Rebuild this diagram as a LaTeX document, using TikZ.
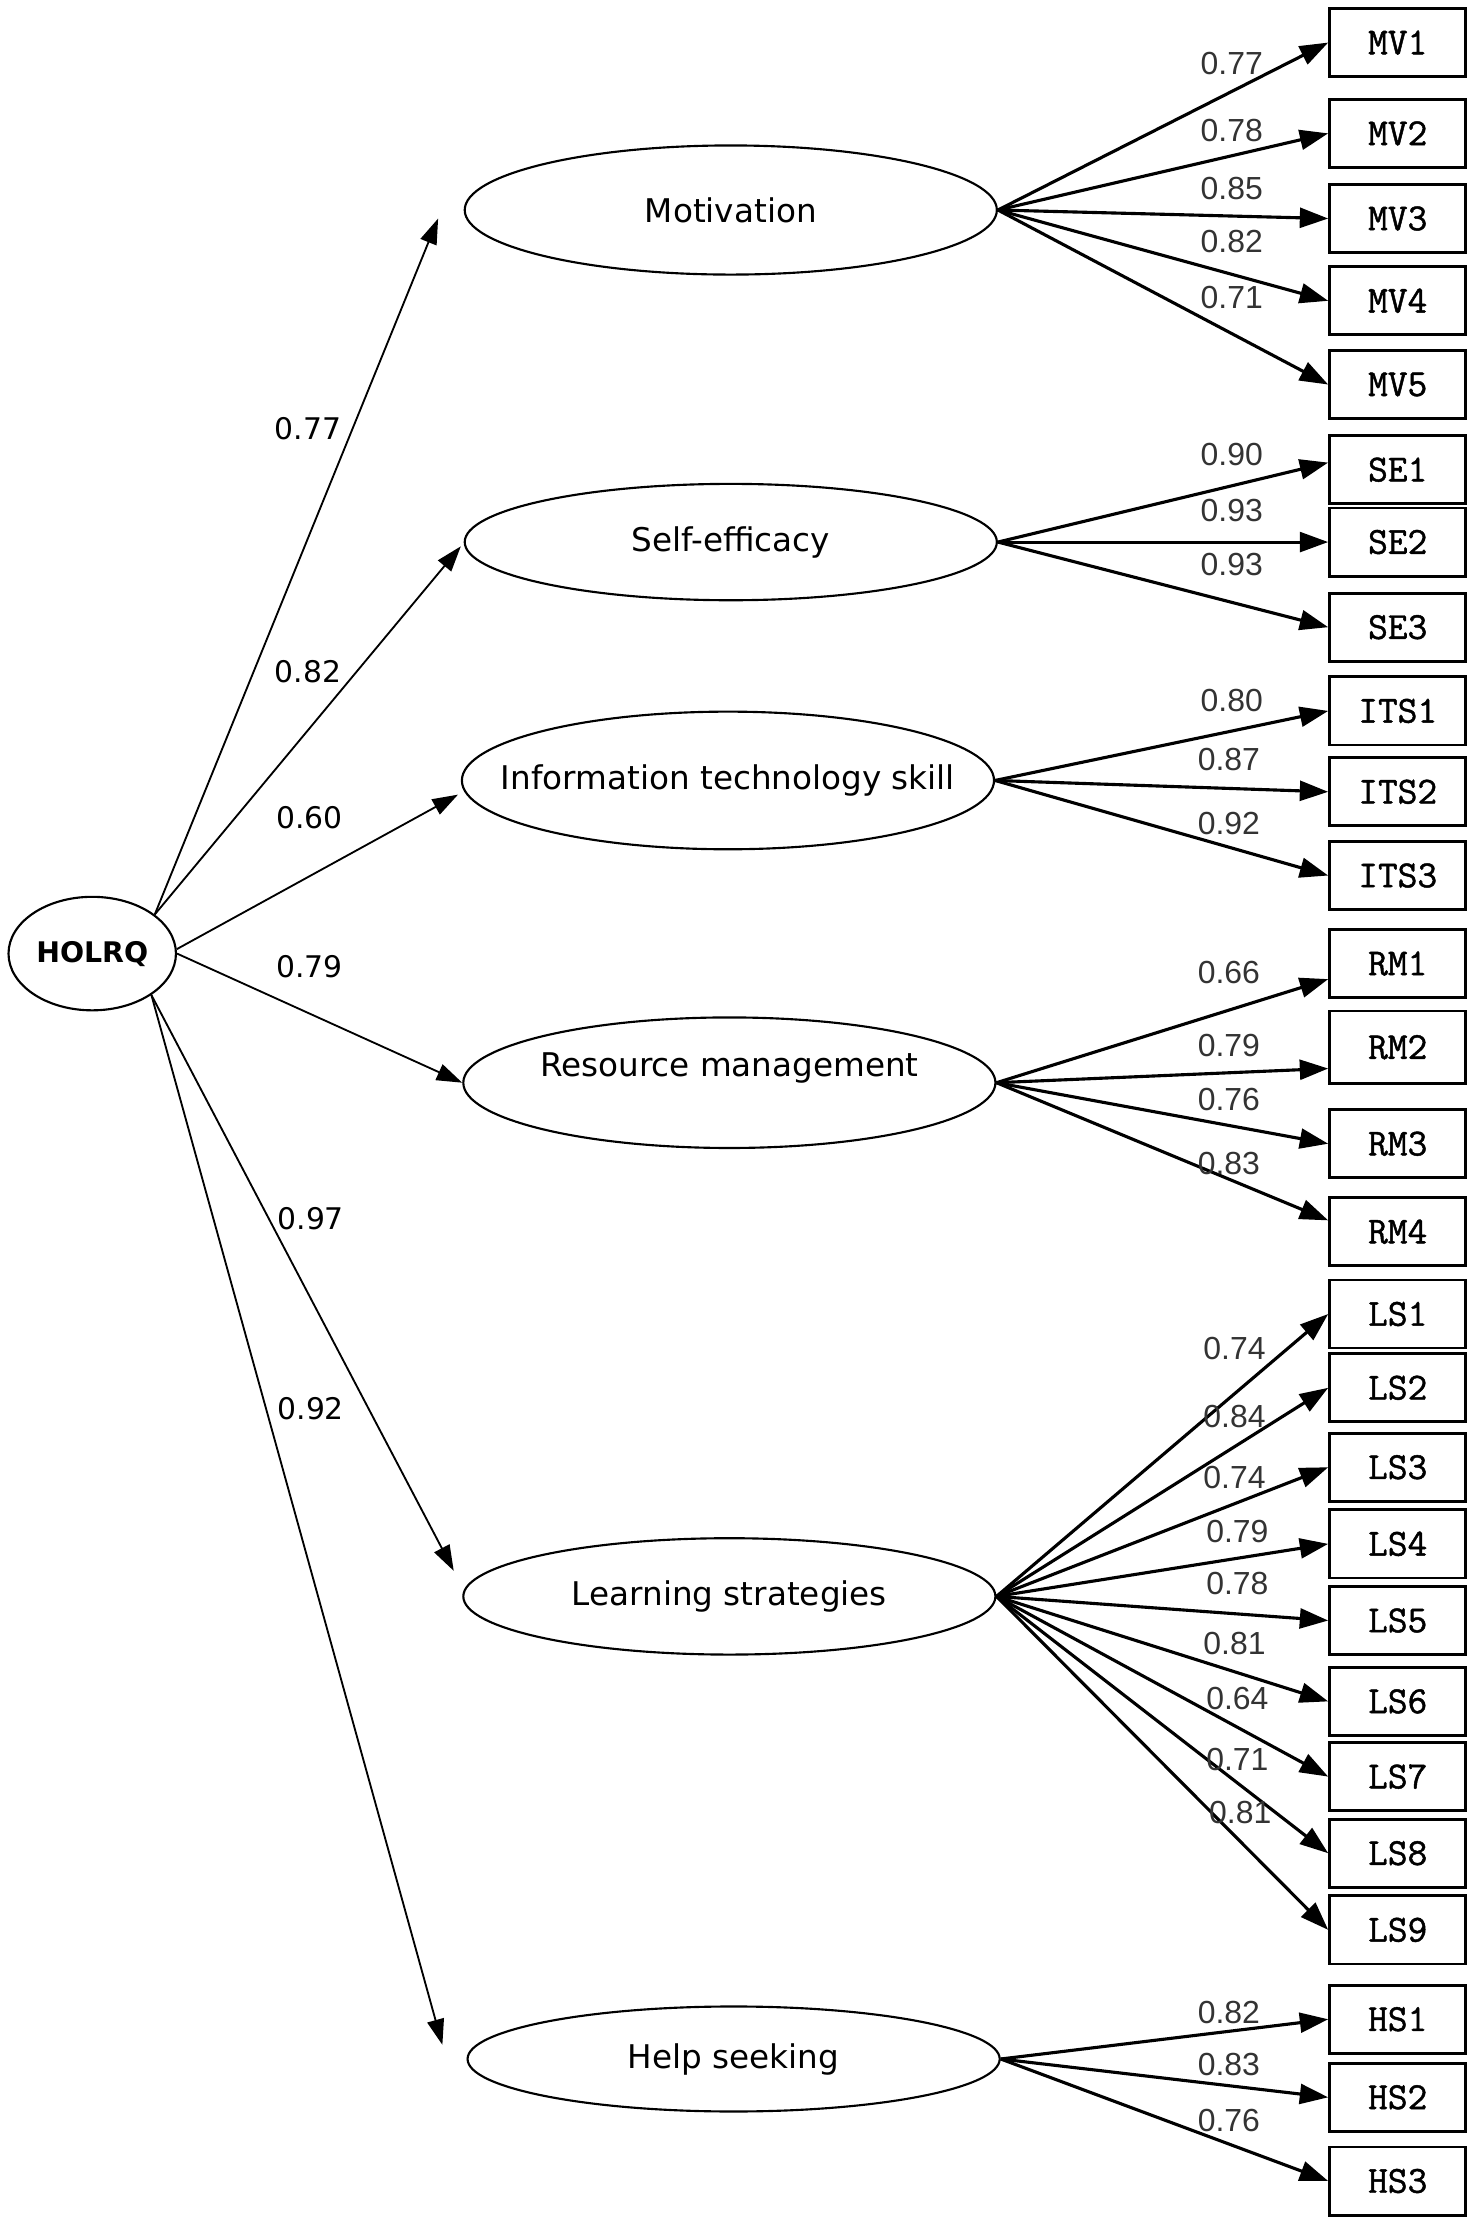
\documentclass[tikz,border=0pt]{standalone}
\usepackage{fontspec}
\setmainfont{DejaVu Sans}
\newfontfamily\lblfont{Liberation Sans}
\newfontfamily\obsfont{Latin Modern Mono}[FakeBold=1.2]
\usetikzlibrary{arrows.meta,shapes.geometric}

\tikzset{
  latent/.style={draw, ellipse, line width=1.5pt, minimum width=375pt, inner xsep=-100pt, inner ysep=0pt,
    font=\fontsize{23}{23}\selectfont},
  observed/.style={draw, line width=2pt, minimum width=96pt, minimum height=48pt, inner sep=0pt,
    font=\obsfont\fontsize{27}{27}\selectfont},
  struct/.style={line width=1.3pt, -{Triangle[length=18pt,width=12pt]}},
  loading/.style={line width=2.2pt, -{Triangle[length=20pt,width=14pt]}},
  coef/.style={inner sep=0pt, font=\fontsize{21}{21}\selectfont},
  lcoef/.style={inner sep=0pt, text=black!80, font=\lblfont\fontsize{22.5}{22.5}\selectfont},
}

\begin{document}
\begin{tikzpicture}[x=1pt,y=-1pt]
        \useasboundingbox (0,0) rectangle (1040,1568);
        % second order factor
        \node[draw, ellipse, line width=1.5pt, minimum width=118pt, minimum height=80pt, inner sep=0pt,
          font=\bfseries\fontsize{20}{20}\selectfont] (holrq) at (65,672) {HOLRQ};
        %
        \node[latent, minimum height=91pt] (mot) at (515,148) {Motivation};
        \node[latent, minimum height=82pt] (self) at (515,382) {Self-efficacy};
        \node[latent, minimum height=97pt] (its) at (513,550) {Information technology skill};
        \node[latent, minimum height=92pt] (rm) at (514,763) {\raisebox{4.5pt}[0pt][0pt]{Resource management}};
        \node[latent, minimum height=82pt] (ls) at (514,1125) {Learning strategies};
        \node[latent, minimum height=74pt] (hs) at (517,1451) {Help seeking};
        %
        \node[observed] (mv1) at (985,30) {MV1};
        \node[observed] (mv2) at (985,94) {MV2};
        \node[observed] (mv3) at (985,154) {MV3};
        \node[observed] (mv4) at (985,212) {MV4};
        \node[observed] (mv5) at (985,271) {MV5};
        \node[observed] (se1) at (985,331) {SE1};
        \node[observed] (se2) at (985,382) {SE2};
        \node[observed] (se3) at (985,442) {SE3};
        \node[observed] (its1) at (985,501) {ITS1};
        \node[observed] (its2) at (985,558) {ITS2};
        \node[observed] (its3) at (985,617) {ITS3};
        \node[observed] (rm1) at (985,679) {RM1};
        \node[observed, minimum height=51pt] (rm2) at (985,738) {RM2};
        \node[observed] (rm3) at (985,806) {RM3};
        \node[observed] (rm4) at (985,868) {RM4};
        \node[observed] (ls1) at (985,926) {LS1};
        \node[observed] (ls2) at (985,978) {LS2};
        \node[observed] (ls3) at (985,1034) {LS3};
        \node[observed] (ls4) at (985,1088) {LS4};
        \node[observed] (ls5) at (985,1142) {LS5};
        \node[observed] (ls6) at (985,1199) {LS6};
        \node[observed] (ls7) at (985,1252) {LS7};
        \node[observed] (ls8) at (985,1306) {LS8};
        \node[observed] (ls9) at (985,1360) {LS9};
        \node[observed] (hs1) at (985,1423) {HS1};
        \node[observed] (hs2) at (985,1478) {HS2};
        \node[observed] (hs3) at (985,1537) {HS3};
        %
        \draw[struct] (holrq.32) -- ([shift={(-18,6)}]mot.west);
        \draw[struct] (holrq.32) -- ([shift={(-2,3)}]self.west);
        \draw[struct] (holrq.3) -- ([shift={(-2,10)}]its.west);
        \draw[struct] (holrq.east) -- (rm.west);
        \draw[struct] (holrq.-35) -- ([shift={(-6,-18)}]ls.west);
        \draw[struct] (holrq.-35) -- ([shift={(-17,-10)}]hs.west);
        \node[coef] (c1) at (217,302) {0.77};
        \node[coef] (c2) at (217,473) {0.82};
        \node[coef] (c3) at (218,576) {0.60};
        \node[coef] (c4) at (218,681) {0.79};
        \node[coef] (c5) at (219,859) {0.97};
        \node[coef] (c6) at (219,993) {0.92};
        %
        \draw[loading] (mot.east) -- (mv1.west);
        \draw[loading] (mot.east) -- (mv2.west);
        \draw[loading] (mot.east) -- (mv3.west);
        \draw[loading] (mot.east) -- (mv4.west);
        \draw[loading] (mot.east) -- (mv5.west);
        \node[lcoef] (l-mv1) at (868,45) {0.77};
        \node[lcoef] (l-mv2) at (868,92) {0.78};
        \node[lcoef] (l-mv3) at (868,133) {0.85};
        \node[lcoef] (l-mv4) at (868,170) {0.82};
        \node[lcoef] (l-mv5) at (868,210) {0.71};
        %
        \draw[loading] (self.east) -- ([yshift=5pt]se1.west);
        \draw[loading] (self.east) -- (se2.west);
        \draw[loading] (self.east) -- (se3.west);
        \node[lcoef] (l-se1) at (868,320) {0.90};
        \node[lcoef] (l-se2) at (868,360) {0.93};
        \node[lcoef] (l-se3) at (868,398) {0.93};
        %
        \draw[loading] (its.east) -- (its1.west);
        \draw[loading] (its.east) -- (its2.west);
        \draw[loading] (its.east) -- (its3.west);
        \node[lcoef] (l-its1) at (868,494) {0.80};
        \node[lcoef] (l-its2) at (866,535) {0.87};
        \node[lcoef] (l-its3) at (866,580) {0.92};
        %
        \draw[loading] (rm.east) -- ([yshift=-11pt]rm1.west);
        \draw[loading] (rm.east) -- ([yshift=-15pt]rm2.west);
        \draw[loading] (rm.east) -- (rm3.west);
        \draw[loading] (rm.east) -- ([yshift=8pt]rm4.west);
        \node[lcoef] (l-rm1) at (866,685) {0.66};
        \node[lcoef] (l-rm2) at (866,737) {0.79};
        \node[lcoef] (l-rm3) at (866,775) {0.76};
        \node[lcoef] (l-rm4) at (866,820) {0.83};
        %
        \draw[loading] (ls.east) -- (ls1.west);
        \draw[loading] (ls.east) -- (ls2.west);
        \draw[loading] (ls.east) -- (ls3.west);
        \draw[loading] (ls.east) -- (ls4.west);
        \draw[loading] (ls.east) -- (ls5.west);
        \draw[loading] (ls.east) -- (ls6.west);
        \draw[loading] (ls.east) -- (ls7.west);
        \draw[loading] (ls.east) -- (ls8.west);
        \draw[loading] (ls.east) -- (ls9.west);
        \node[lcoef] (l-ls1) at (870,950) {0.74};
        \node[lcoef] (l-ls2) at (870,998) {0.84};
        \node[lcoef] (l-ls3) at (870,1041) {0.74};
        \node[lcoef] (l-ls4) at (872,1079) {0.79};
        \node[lcoef] (l-ls5) at (872,1116) {0.78};
        \node[lcoef] (l-ls6) at (870,1158) {0.81};
        \node[lcoef] (l-ls7) at (872,1197) {0.64};
        \node[lcoef] (l-ls8) at (872,1240) {0.71};
        \node[lcoef] (l-ls9) at (874,1277) {0.81};
        %
        \draw[loading] (hs.east) -- (hs1.west);
        \draw[loading] (hs.east) -- (hs2.west);
        \draw[loading] (hs.east) -- (hs3.west);
        \node[lcoef] (l-hs1) at (866,1418) {0.82};
        \node[lcoef] (l-hs2) at (866,1455) {0.83};
        \node[lcoef] (l-hs3) at (866,1494) {0.76};
\end{tikzpicture}
\end{document}
